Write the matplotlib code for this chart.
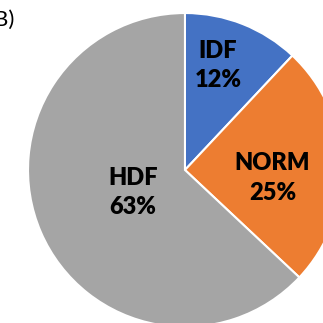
import matplotlib.pyplot as plt
import numpy as np

# Data
labels = ['IDF', 'NORM', 'HDF']
shares = [12, 25, 63]
colors = ['#4472C4', '#ED7D31', '#A5A5A5']
# distance of each label from the centre (fraction of radius) and angle tweak
label_dist = [0.70, 0.56, 0.36]
label_shift = [4, -7, 0]

plt.rcParams['font.family'] = ['Lato', 'DejaVu Sans']

fig = plt.figure(figsize=(3.23, 3.23), dpi=100)
ax = fig.add_axes([0, 0, 1, 1])

wedges, _ = ax.pie(shares, colors=colors, startangle=90, counterclock=False,
                   wedgeprops=dict(edgecolor='white', linewidth=1.5))

# Place labels inside each wedge
for w, lab, val, d, s in zip(wedges, labels, shares, label_dist, label_shift):
    mid = np.deg2rad((w.theta1 + w.theta2) / 2 + s)
    ax.text(d * np.cos(mid), d * np.sin(mid), f'{lab}\n{val}%',
            ha='center', va='center', fontsize=17, fontweight='heavy',
            linespacing=1.4, color='black')

# Pie is cropped on the right and bottom like the original
ax.set_xlim(-1.178, 0.879)
ax.set_ylim(-0.975, 1.083)
ax.set_aspect('equal')
ax.axis('off')

fig.text(-0.02, 0.937, 'B)', fontsize=16, ha='left', va='center')

fig.savefig('out.png', dpi=100)
